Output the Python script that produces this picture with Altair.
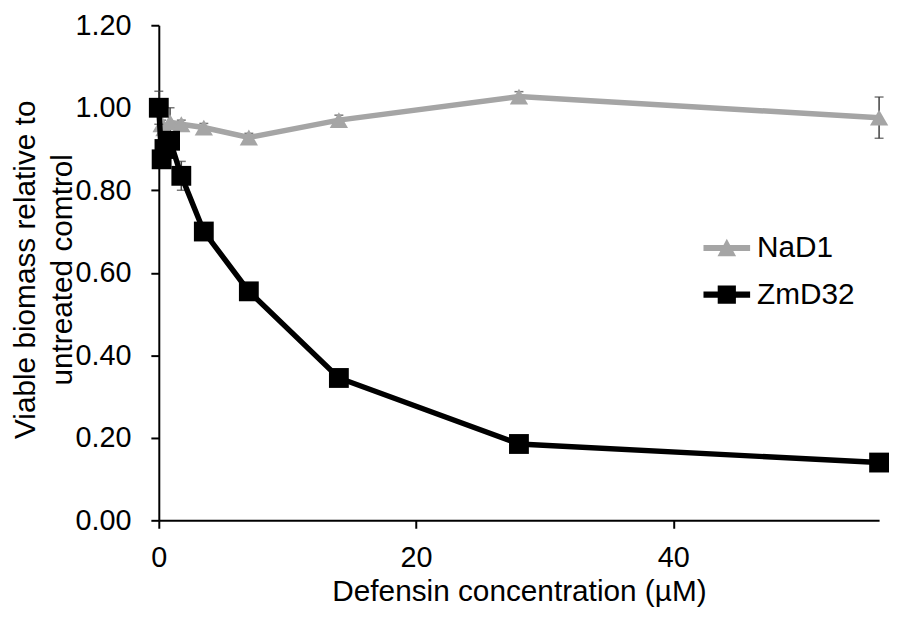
import altair as alt
import pandas as pd

# ---- data ----
conc = [0, 0.22, 0.44, 0.875, 1.75, 3.5, 7, 14, 28, 56]
nad1 = [1.00, 0.96, 0.95, 0.965, 0.96, 0.952, 0.928, 0.97, 1.027, 0.976]
nad1_err = [0.01, 0.01, 0.01, 0.035, 0.01, 0.01, 0.01, 0.012, 0.012, 0.05]
zmd32 = [1.00, 0.875, 0.90, 0.92, 0.835, 0.70, 0.555, 0.345, 0.185, 0.14]
zmd32_err = [0.04, 0.01, 0.01, 0.02, 0.035, 0.01, 0.01, 0.01, 0.01, 0.01]
series_names = ["NaD1", "ZmD32"]
series_colors = ["#A5A5A5", "#000000"]
x_ticks = [0, 20, 40]
y_ticks = [0, 0.2, 0.4, 0.6, 0.8, 1.0, 1.2]

FONT = "Liberation Sans"


def frame(name, vals, errs):
    return pd.DataFrame({
        "conc": conc,
        "value": vals,
        "lo": [v - e for v, e in zip(vals, errs)],
        "hi": [v + e for v, e in zip(vals, errs)],
        "series": name,
    })


df = pd.concat([frame("NaD1", nad1, nad1_err), frame("ZmD32", zmd32, zmd32_err)],
               ignore_index=True)

xs = alt.Scale(domain=[0, 56], nice=False, zero=True)
ys = alt.Scale(domain=[0, 1.2], nice=False)

x_axis = alt.Axis(values=x_ticks, labelFontSize=29, labelFont=FONT, labelColor="black",
                  labelFlush=False, labelPadding=16, tickSize=8, tickWidth=2,
                  tickColor="black", domainColor="black", domainWidth=2, grid=False,
                  title="Defensin concentration (µM)", titleFont=FONT, titleFontSize=30,
                  titleFontWeight="normal", titleColor="black",
                  titleBaseline="alphabetic", titleY=81)
y_axis = alt.Axis(values=y_ticks, format=".2f", labelFontSize=29, labelFont=FONT,
                  labelColor="black", labelFlush=False, labelPadding=20, tickSize=8,
                  tickWidth=2, tickColor="black", domainColor="black", domainWidth=2,
                  grid=False,
                  title=["Viable biomass relative to", "untreated comtrol"],
                  titleFont=FONT, titleFontSize=30, titleFontWeight="normal",
                  titleColor="black", titleAngle=270, titleAlign="center",
                  titleBaseline="top", titleX=-149, titleY=246, titleLineHeight=37)

X = alt.X("conc:Q", scale=xs, axis=x_axis)
Y = alt.Y("value:Q", scale=ys, axis=y_axis)

base = alt.Chart(df)


def series_layers(name, color, shape, size):
    d = base.transform_filter(alt.datum.series == name)
    err = d.mark_rule(color="#404040", strokeWidth=1.5).encode(
        x=X, y=alt.Y("lo:Q", scale=ys, axis=y_axis), y2="hi:Q")
    cap_lo = d.mark_tick(color="#404040", orient="horizontal", size=9, thickness=1.5).encode(
        x=X, y=alt.Y("lo:Q", scale=ys, axis=y_axis))
    cap_hi = d.mark_tick(color="#404040", orient="horizontal", size=9, thickness=1.5).encode(
        x=X, y=alt.Y("hi:Q", scale=ys, axis=y_axis))
    line = d.mark_line(color=color, strokeWidth=5.5).encode(x=X, y=Y)
    pts = d.mark_point(filled=True, shape=shape, size=size, color=color, opacity=1).encode(x=X, y=Y)
    return [err, cap_lo, cap_hi, line, pts]


tri_path = ("M-1,-0.13L1,-0.13L1,0.13L-1,0.13Z"
            "M-0.4,0.36L0,-0.4L0.4,0.36Z")
sq_path = ("M-1,-0.13L1,-0.13L1,0.13L-1,0.13Z"
           "M-0.39,-0.39L0.39,-0.39L0.39,0.39L-0.39,0.39Z")

legend_layer = base.transform_filter(alt.datum.conc < 0).mark_point(
    filled=True, opacity=1).encode(
    color=alt.Color("series:N", scale=alt.Scale(domain=series_names, range=series_colors),
                    legend=alt.Legend(title=None)),
    shape=alt.Shape("series:N", scale=alt.Scale(domain=series_names, range=[tri_path, sq_path]),
                    legend=alt.Legend(title=None)),
)

layers = (series_layers("NaD1", series_colors[0], "triangle-up", 340)
          + series_layers("ZmD32", series_colors[1], "square", 400)
          + [legend_layer])

chart = alt.layer(*layers).properties(
    width=726, height=499,
    autosize=alt.AutoSizeParams(type="none"),
    padding={"left": 152, "top": 15, "right": 12, "bottom": 85},
).configure_view(strokeWidth=0).configure_legend(
    orient="none", legendX=549, legendY=201, padding=0,
    labelFont=FONT, labelFontSize=30, labelColor="black",
    symbolSize=2209, symbolStrokeWidth=0, rowPadding=8, labelOffset=7,
)

chart.save("out.html", embed_options={"renderer": "svg", "actions": False})
